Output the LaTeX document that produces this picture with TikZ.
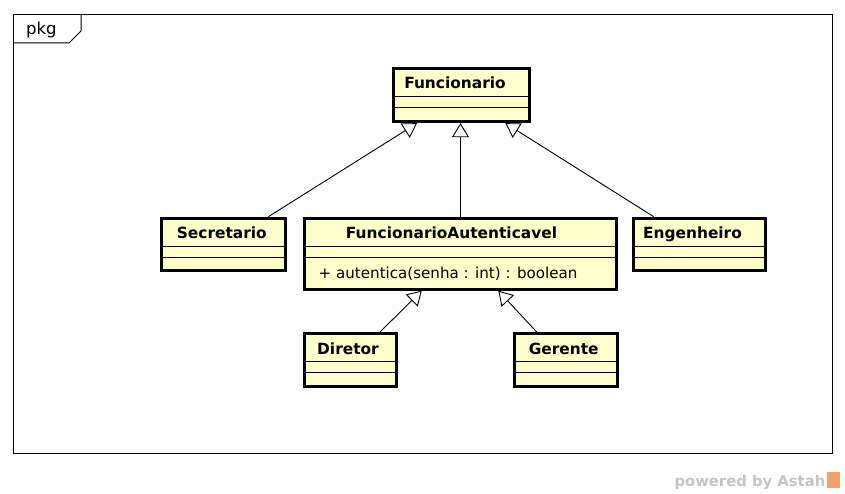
\documentclass[tikz,border=0pt]{standalone}
\usepackage{fontspec}
\setmainfont{DejaVu Sans}
\usetikzlibrary{arrows.meta}
\definecolor{classfill}{HTML}{FFFFCC}
\definecolor{markgray}{HTML}{C4C4C4}
\definecolor{markorange}{HTML}{F4A06C}

\begin{document}
\begin{tikzpicture}[x=1pt, y=-1pt,
        cls/.style={draw=black, line width=3pt, fill=classfill, inner sep=0pt},
        clsname/.style={font=\fontsize{15.4}{17}\selectfont\bfseries, anchor=base},
        gen/.style={-{Triangle[open, length=14pt, width=17pt]}, line width=0.9pt}]
        \useasboundingbox (0,0) rectangle (845,494);
        % package frame
        \draw[line width=1pt] (13.5,14.5) rectangle (832,453.5);
        \draw[line width=1pt] (13.5,43) -- (69,43) -- (81,31) -- (81,14.5);
        \node[font=\fontsize{16.5}{18}\selectfont, anchor=base west, inner sep=0pt] 
            (pkg) at (26,35) {pkg};
        % classes
        \node[cls, minimum width=136pt, minimum height=53pt] (funcionario) at (461.2,95.2) {};
        \node[cls, minimum width=123.7pt, minimum height=52pt] (secretario) at (223.4,244.2) {};
        \node[cls, minimum width=311.4pt, minimum height=71pt] (funcAut) at (460.5,253.7) {};
        \node[cls, minimum width=132pt, minimum height=52pt] (engenheiro) at (699.2,244.2) {};
        \node[cls, minimum width=91.4pt, minimum height=53pt] (diretor) at (350.5,360) {};
        \node[cls, minimum width=102.7pt, minimum height=53pt] (gerente) at (566.2,360) {};
        \foreach \c in {funcionario, secretario, funcAut, engenheiro, diretor, gerente} {
            \draw[line width=1pt] ([yshift=-29.8pt]\c.north west) -- ([yshift=-29.8pt]\c.north east);
            \draw[line width=1pt] ([yshift=-40.5pt]\c.north west) -- ([yshift=-40.5pt]\c.north east);
        }
        \node[clsname] (funcionarioName) at (455,88.5) {Funcionario};
        \node[clsname] (secretarioName) at (221.8,238.5) {Secretario};
        \node[clsname] (funcAutName) at (451.5,238.5) {FuncionarioAutenticavel};
        \node[clsname] (engenheiroName) at (692.5,238.5) {Engenheiro};
        \node[clsname] (diretorName) at (348,354.5) {Diretor};
        \node[clsname] (gerenteName) at (563.7,354.5) {Gerente};
        \node[font=\fontsize{15.1}{17}\selectfont, anchor=base west, inner sep=0pt] 
            (autentica) at (318.5,278.3) {+ autentica(senha : int) : boolean};
        % generalizations
        \draw[gen] ([xshift=45pt]secretario.north) -- ([xshift=-44.2pt]funcionario.south);
        \draw[gen] (funcAut.north) -- (funcAut.north |- funcionario.south);
        \draw[gen] ([xshift=-45.5pt]engenheiro.north) -- ([xshift=44.2pt]funcionario.south);
        \draw[gen] ([xshift=29.5pt]diretor.north) -- ([xshift=-38.8pt]funcAut.south);
        \draw[gen] ([xshift=-29.5pt]gerente.north) -- ([xshift=37.8pt]funcAut.south);
        % watermark
        \node[font=\fontsize{14.8}{16}\selectfont\bfseries, text=markgray, anchor=base east, inner sep=0pt] 
            (powered) at (825.5,486.5) {powered by Astah};
        \fill[markorange] (826.5,472) rectangle (840,487.5);
\end{tikzpicture}
\end{document}
